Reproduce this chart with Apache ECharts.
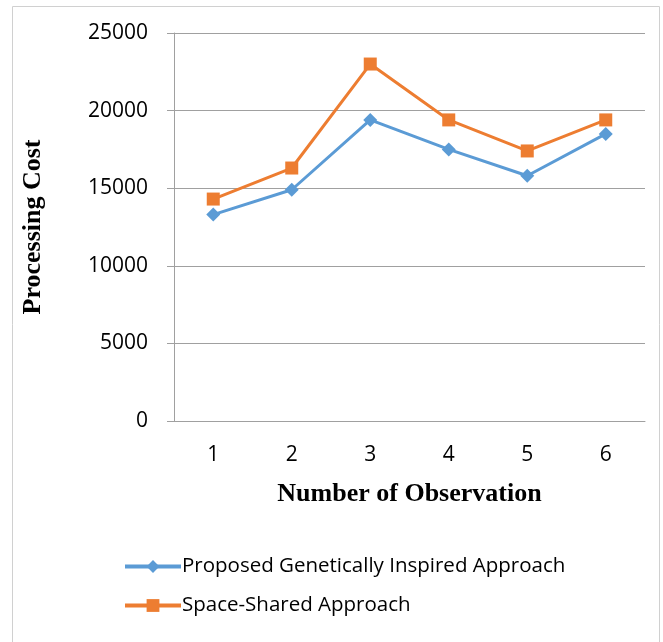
<!DOCTYPE html>
<html>
<head>
<meta charset="utf-8">
<script src="https://cdn.jsdelivr.net/npm/echarts@6/dist/echarts.min.js"></script>
<style>
  html, body { margin: 0; padding: 0; background: #fff; }
  #chart { width: 663px; height: 642px; }
</style>
</head>
<body>
<div id="chart"></div>
<script>
// observations on the x axis
const observations = ['1', '2', '3', '4', '5', '6'];
// processing cost per series
const geneticCost = [13300, 14900, 19400, 17500, 15800, 18500];
const spaceSharedCost = [14300, 16300, 23000, 19400, 17400, 19400];
const seriesNames = ['Proposed Genetically Inspired Approach', 'Space-Shared Approach'];

const colors = ['#5b9bd5', '#ed7d31'];
const labelFont = '"Open Sans", sans-serif';
const titleFont = '"Liberation Serif", "Times New Roman", serif';

const chart = echarts.init(document.getElementById('chart'));
chart.setOption({
  animation: false,
  color: colors,
  graphic: [{
    type: 'rect',
    left: 10,
    top: 4,
    shape: { width: 647, height: 680 },
    style: { fill: 'none', stroke: '#d0d0d0', lineWidth: 1 },
    silent: true
  }],
  grid: { left: 174, right: 18, top: 33, bottom: 221 },
  legend: {
    orient: 'vertical',
    left: 118,
    top: 551,
    itemGap: 18,
    itemWidth: 56,
    itemHeight: 16,
    textStyle: { fontFamily: labelFont, fontSize: 20.5, color: '#000', padding: [0, 0, 0, -4] },
    data: seriesNames.map(function (n) {
      return { name: n, lineStyle: { width: 4 } };
    })
  },
  xAxis: {
    type: 'category',
    data: observations,
    name: 'Number of Observation',
    nameLocation: 'middle',
    nameGap: 60,
    nameTextStyle: { fontFamily: titleFont, fontWeight: 'bold', fontSize: 26, color: '#000' },
    axisLine: { lineStyle: { color: '#a0a0a0', width: 1 } },
    axisTick: { show: false },
    axisLabel: { fontFamily: labelFont, fontSize: 21, color: '#000', margin: 24 }
  },
  yAxis: {
    type: 'value',
    min: 0,
    max: 25000,
    interval: 5000,
    name: 'Processing Cost',
    nameLocation: 'middle',
    nameGap: 128,
    nameTextStyle: { fontFamily: titleFont, fontWeight: 'bold', fontSize: 26, color: '#000' },
    axisLine: { show: true, lineStyle: { color: '#a0a0a0', width: 1 } },
    axisTick: { show: true, inside: false, length: 7, lineStyle: { color: '#a0a0a0' } },
    splitLine: { lineStyle: { color: '#a0a0a0', width: 1 } },
    axisLabel: {
      fontFamily: labelFont, fontSize: 21, color: '#000', margin: 26,
      formatter: function (v) { return String(v); }
    }
  },
  series: [
    {
      name: seriesNames[0],
      type: 'line',
      data: geneticCost,
      symbol: 'diamond',
      symbolSize: 14,
      lineStyle: { width: 3 },
      itemStyle: { color: colors[0] }
    },
    {
      name: seriesNames[1],
      type: 'line',
      data: spaceSharedCost,
      symbol: 'rect',
      symbolSize: 13,
      lineStyle: { width: 3 },
      itemStyle: { color: colors[1] }
    }
  ]
});
</script>
</body>
</html>
